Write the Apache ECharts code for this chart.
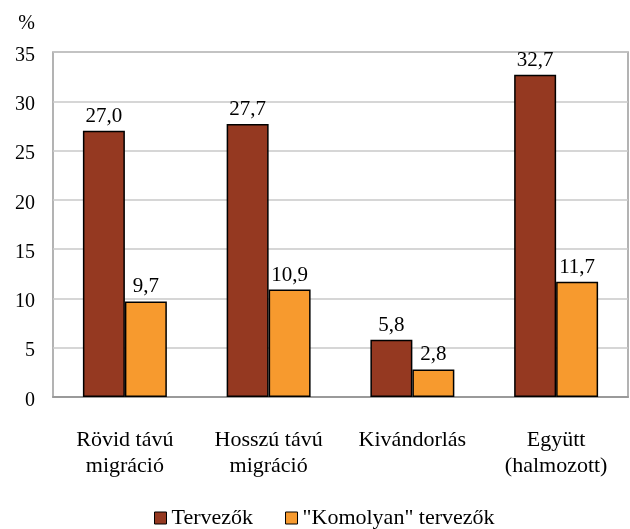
<!DOCTYPE html>
<html><head><meta charset="utf-8">
<script src="https://cdn.jsdelivr.net/npm/echarts@6/dist/echarts.min.js"></script>
<style>html,body{margin:0;padding:0;background:#fff}#c{width:630px;height:529px}</style>
</head><body><div id="c"></div>
<script>
const categories = ["Rövid távú\nmigráció", "Hosszú távú\nmigráció", "Kivándorlás", "Együtt\n(halmozott)"];
const seriesNames = ["Tervezők", "\"Komolyan\" tervezők"];
const tervezok = [27.0, 27.7, 5.8, 32.7];
const komolyan = [9.7, 10.9, 2.8, 11.7];
const colors = ["#953921", "#F79A2E"];
const font = "Liberation Serif";
const chart = echarts.init(document.getElementById('c'), null, {renderer: 'canvas'});
const lbl = {show: true, position: 'top', distance: 4, color: '#000', fontFamily: font, fontSize: 21,
  formatter: p => p.value.toFixed(1).replace('.', ',')};
chart.setOption({
  animation: false,
  textStyle: {fontFamily: font},
  grid: {left: 53, right: 2, top: 52, bottom: 132, show: true, borderColor: '#9a9a9a', borderWidth: 1.5},
  legend: {top: 502, left: 149, itemWidth: 12, itemHeight: 12, itemGap: 32,
    textStyle: {fontFamily: font, fontSize: 22, color: '#000'},
    data: seriesNames.map((n, i) => ({name: n, icon: 'rect', itemStyle: {color: colors[i], borderColor: '#000', borderWidth: 1}}))},
  xAxis: {type: 'category', data: categories,
    axisLine: {show: true, lineStyle: {color: '#9a9a9a', width: 2}}, axisTick: {show: false},
    axisLabel: {fontFamily: font, fontSize: 22, color: '#000', margin: 30, lineHeight: 26}},
  yAxis: {type: 'value', min: 0, max: 35, interval: 5, name: '%', nameGap: 18,
    nameLocation: 'end', nameTextStyle: {fontFamily: font, fontSize: 20, color: '#000', align: 'right', padding: [0, 18, 0, 0]},
    axisLine: {show: false}, axisTick: {show: false},
    splitLine: {lineStyle: {color: '#c8c8c8', width: 1.5}},
    axisLabel: {color: '#000', margin: 18, formatter: '{a|{value}}',
      rich: {a: {fontFamily: font, fontSize: 20, color: '#000', padding: [7, 0, 0, 0]}}}},
  series: [
    {name: seriesNames[0], type: 'bar', data: tervezok, barGap: '0%', barCategoryGap: '41.6%',
     itemStyle: {color: colors[0], borderColor: '#000', borderWidth: 1.5}, label: lbl},
    {name: seriesNames[1], type: 'bar', data: komolyan, barGap: '0%', barCategoryGap: '41.6%',
     itemStyle: {color: colors[1], borderColor: '#000', borderWidth: 1.5}, label: lbl}
  ]
});
</script></body></html>
